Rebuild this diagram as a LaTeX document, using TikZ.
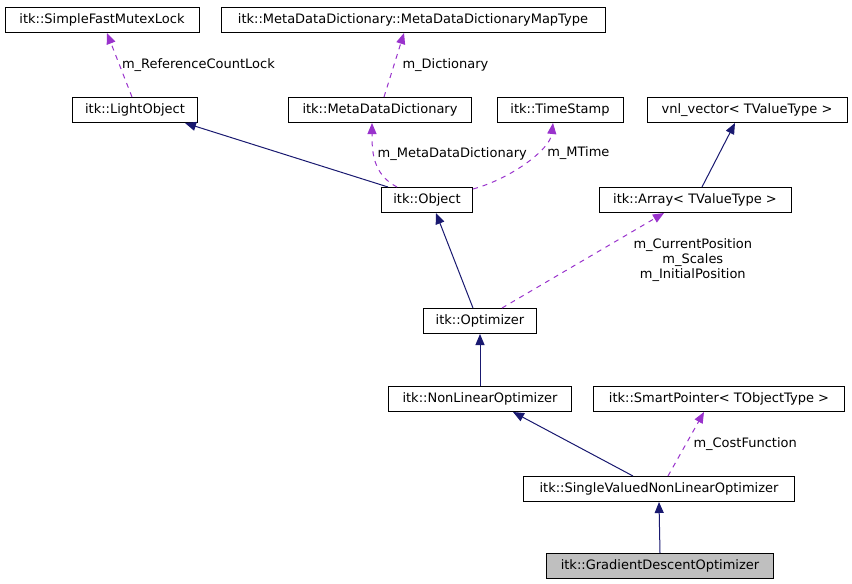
\documentclass[tikz,border=0pt]{standalone}
\usepackage{fontspec}
\setmainfont{DejaVu Sans}
\usepackage{tikz}
\usetikzlibrary{arrows.meta,positioning}
\usepackage{xcolor}
\definecolor{cNavy}{RGB}{25,25,112}
\definecolor{cOrchid}{RGB}{153,50,204}
\definecolor{cGray}{RGB}{191,191,191}
\tikzset{
  classbox/.style={rectangle,draw=black,fill=white,line width=1pt,
                   minimum height=25pt,inner xsep=2pt,inner ysep=0pt,
                   font=\fontsize{13}{15}\selectfont},
  graynode/.style={classbox,fill=cGray},
  inharr/.style={-{Triangle[length=11pt,width=9pt]},line width=1pt,color=cNavy},
  usearr/.style={-{Triangle[length=11pt,width=9pt]},line width=1pt,color=cOrchid,
                 dash pattern=on 5pt off 5pt},
  lbl/.style={font=\fontsize{13}{15}\selectfont,inner sep=2pt,align=center,
              text=black}
}
\begin{document}
\begin{tikzpicture}[x=1pt,y=-1pt]
  \useasboundingbox (0,0) rectangle (852,584);

  \node[classbox,minimum width=194pt] (sfml) at (102,20) {itk::SimpleFastMutexLock};
  \node[classbox,minimum width=384pt] (mapty) at (413,20)
      {itk::MetaDataDictionary::MetaDataDictionaryMapType};
  \node[classbox,minimum width=125pt] (lobj) at (135,110) {itk::LightObject};
  \node[classbox,minimum width=183pt] (mdd) at (380,110) {itk::MetaDataDictionary};
  \node[classbox,minimum width=126pt] (tstamp) at (560,110) {itk::TimeStamp};
  \node[classbox,minimum width=200pt] (vnlvec) at (747,110) {vnl\_vector< TValueType >};
  \node[classbox,minimum width=91pt] (obj) at (427,200) {itk::Object};
  \node[classbox,minimum width=192pt] (itkarr) at (695,200) {itk::Array< TValueType >};
  \node[classbox,minimum width=113pt] (opt) at (480,321) {itk::Optimizer};
  \node[classbox,minimum width=183pt] (nlopt) at (480,399) {itk::NonLinearOptimizer};
  \node[classbox,minimum width=251pt] (smptr) at (719,399)
      {itk::SmartPointer< TObjectType >};
  \node[classbox,minimum width=271pt] (svopt) at (659,489)
      {itk::SingleValuedNonLinearOptimizer};
  \node[graynode,minimum width=227pt] (gdopt) at (660,566)
      {itk::GradientDescentOptimizer};

  \draw[usearr] ([xshift=-3pt]lobj.north) -- ([xshift=5pt]sfml.south)
      node[midway,anchor=west,lbl]{m\_ReferenceCountLock};
  \draw[usearr] ([xshift=4pt]mdd.north) -- ([xshift=-9pt]mapty.south)
      node[midway,anchor=west,lbl,xshift=6pt]{m\_Dictionary};
  \draw[inharr] ([xshift=-39pt]obj.north) -- ([xshift=50pt]lobj.south);
  \draw[usearr] ([xshift=-30pt]obj.north) .. controls +(-25,-13) and +(0,27) ..
      ([xshift=-8pt]mdd.south)
      node[pos=.5,anchor=west,lbl,yshift=6pt]{m\_MetaDataDictionary};
  \draw[usearr] ([yshift=-2pt]obj.north east) .. controls +(37,-10) and +(-3,27) ..
      ([xshift=-7pt]tstamp.south)
      node[pos=.62,anchor=west,lbl,xshift=9pt]{m\_MTime};
  \draw[inharr] ([xshift=7pt]itkarr.north) -- ([xshift=-12pt]vnlvec.south);
  \draw[inharr] ([xshift=-7pt]opt.north) -- ([xshift=9pt]obj.south);
  \draw[usearr] ([xshift=22pt]opt.north) -- ([xshift=-31pt]itkarr.south)
      node[midway,anchor=west,lbl,xshift=48pt]
      {m\_CurrentPosition\\m\_Scales\\m\_InitialPosition};
  \draw[inharr] (nlopt.north) -- (opt.south);
  \draw[inharr] ([xshift=-26pt]svopt.north) -- ([xshift=33pt]nlopt.south);
  \draw[usearr] ([xshift=9pt]svopt.north) -- ([xshift=-15pt]smptr.south)
      node[midway,anchor=west,lbl,xshift=5pt]{m\_CostFunction};
  \draw[inharr] (gdopt.north) -- (svopt.south);
\end{tikzpicture}
\end{document}
